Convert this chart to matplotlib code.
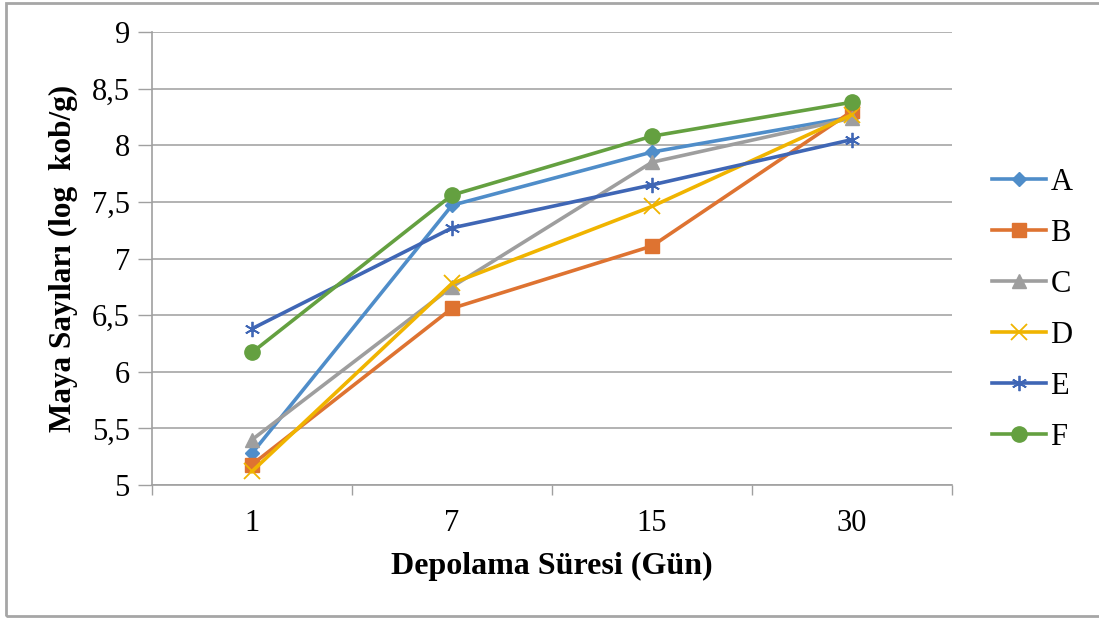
import matplotlib
matplotlib.use("Agg")
import matplotlib.pyplot as plt
from matplotlib.patches import Rectangle

days = ["1", "7", "15", "30"]
series_names = ["A", "B", "C", "D", "E", "F"]
A = [5.28, 7.47, 7.94, 8.25]
B = [5.18, 6.56, 7.11, 8.30]
C = [5.40, 6.75, 7.85, 8.24]
D = [5.12, 6.78, 7.46, 8.27]
E = [6.38, 7.27, 7.65, 8.05]
F = [6.17, 7.56, 8.08, 8.38]
yticks = [5, 5.5, 6, 6.5, 7, 7.5, 8, 8.5, 9]
ytick_labels = ["5", "5,5", "6", "6,5", "7", "7,5", "8", "8,5", "9"]

colors = ["#4F8DC9", "#DE7331", "#9E9E9E", "#F0B400", "#3F66B5", "#64A040"]
markers = ["D", "s", "^", "x", "x", "o"]
msizes = [7, 10, 10, 11, 11, 11]

plt.rcParams['font.family'] = ['Liberation Serif', 'DejaVu Serif']

fig = plt.figure(figsize=(10.99, 6.19), dpi=100)
ax = fig.add_axes([152/1099, 1 - 485/619, 800/1099, 453/619])

xs = list(range(len(days)))
data = [A, B, C, D, E, F]
handles = []
for name, vals, c, m, ms in zip(series_names, data, colors, markers, msizes):
    if name == "E":
        h, = ax.plot(xs, vals, color=c, lw=2.6, marker=(6, 2, 0), ms=ms, mew=1.3,
                     mec=c, mfc=c, label=name)
    elif name == "D":
        h, = ax.plot(xs, vals, color=c, lw=2.6, marker="x", ms=ms, mew=1.3,
                     mec=c, label=name)
    else:
        h, = ax.plot(xs, vals, color=c, lw=2.6, marker=m, ms=ms, mec=c, mfc=c,
                     label=name)
    handles.append(h)

ax.set_xlim(-0.5, 3.5)
ax.set_ylim(5, 9)
ax.set_yticks(yticks)
ax.set_yticklabels(ytick_labels)
ax.set_xticks(xs)
ax.set_xticklabels(days)
ax.set_xticks([-0.5, 0.5, 1.5, 2.5, 3.5], minor=True)
ax.tick_params(axis='x', which='major', length=0, pad=17, labelsize=22)
ax.tick_params(axis='x', which='minor', length=7, color="#A0A0A0", width=1)
ax.tick_params(axis='y', which='major', length=10, color="#A0A0A0", width=1,
               labelsize=22, pad=6)
ax.grid(axis='y', color="#A6A6A6", lw=1.2)
ax.set_axisbelow(True)
for s in ["top", "right"]:
    ax.spines[s].set_visible(False)
ax.spines["left"].set_color("#A0A0A0")
ax.spines["bottom"].set_color("#A0A0A0")
ax.spines["left"].set_linewidth(1.2)
ax.spines["bottom"].set_linewidth(1.2)

ax.set_xlabel("Depolama Süresi (Gün)", fontsize=23, fontweight="bold", labelpad=10)
ax.set_ylabel("Maya Sayıları (log  kob/g)", fontsize=22.5, fontweight="bold", labelpad=10)

leg = fig.legend(handles=handles, loc="center left",
                 bbox_to_anchor=(980/1099, 1 - 310/619), frameon=False,
                 fontsize=22, handlelength=1.75, handletextpad=0.15,
                 labelspacing=0.72, borderaxespad=0)

fig.patches.append(Rectangle((6/1099, 3/619), 1.2, 1 - 6/619, transform=fig.transFigure,
                             fill=False, edgecolor="#A6A6A6", lw=2))

fig.savefig("out.png", dpi=100)
